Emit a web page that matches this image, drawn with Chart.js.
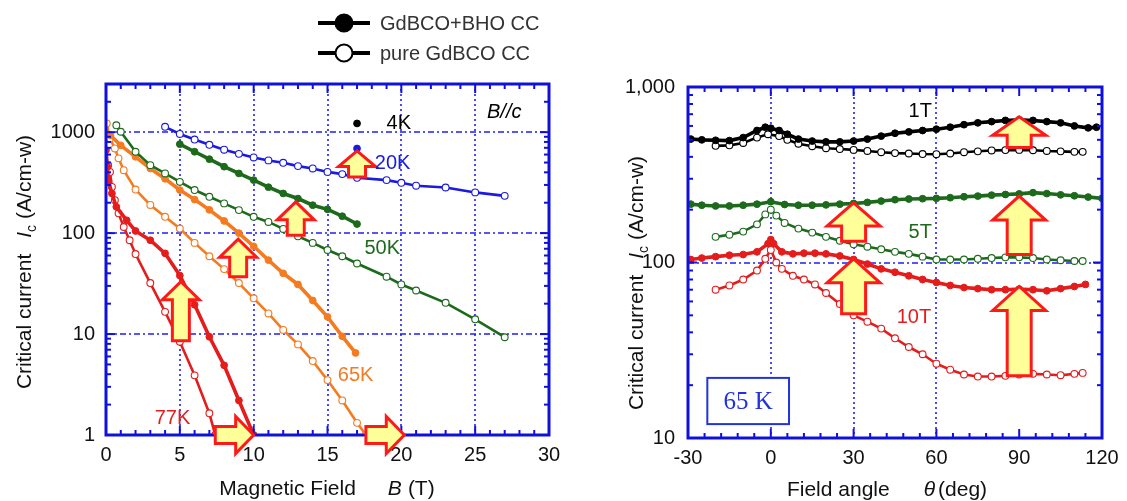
<!DOCTYPE html>
<html>
<head>
<meta charset="utf-8">
<title>Critical current vs field and angle</title>
<script src="https://cdn.jsdelivr.net/npm/chart.js@4.4.1/dist/chart.umd.min.js"></script>
<style>
  html, body { margin: 0; padding: 0; background: #fff; }
  .wrap { position: relative; width: 1127px; height: 501px; overflow: hidden; }
  #chartB { position: absolute; left: 0; top: 0; }
  #chartTheta { position: absolute; left: 600px; top: 0; }
</style>
</head>
<body>
<div class="wrap">
  <canvas id="chartB" width="600" height="501"></canvas>
  <canvas id="chartTheta" width="527" height="501"></canvas>
</div>
<script>
(function () {
    'use strict';

    // ── Data: Ic vs B, B//c (A = GdBCO+BHO, P = pure GdBCO) ──────
    const fieldTicks  = [0, 5, 10, 15, 20, 25, 30];
    const fieldLabels = ['0', '5', '10', '15', '20', '25', '30'];
    const icTicksB    = [1, 10, 100, 1000];
    const icLabelsB   = ['1', '10', '100', '1000'];

    const b4A   = [17];
    const ic4A  = [1220];
    const b20A  = [17];
    const ic20A = [689];
    const b20P  = [4, 5, 6, 7, 8, 9, 10, 11, 12, 13, 14, 15, 16, 17, 19, 20, 21, 23, 25, 27];
    const ic20P = [1130, 960, 845, 750, 670, 610, 562, 525, 497, 461, 437, 404, 384, 353, 335, 315, 295, 283, 253, 234];
    const b50A  = [5, 6, 7, 8, 9, 10, 11, 12, 13, 14, 15, 16, 17];
    const ic50A = [761, 640, 540, 455, 390, 335, 285, 247, 220, 189, 172, 147, 123];
    const b50P  = [0.7, 1, 2, 3, 4, 5, 6, 7, 8, 9, 10, 11, 12, 13, 14, 15, 16, 17, 19, 20, 21, 23, 25, 27];
    const ic50P = [1170, 1010, 640, 471, 390, 322, 267, 229, 197, 169, 145, 129, 110, 93, 80, 68, 59, 50, 37, 31, 27, 20.4, 14, 9.3];
    const b65A  = [0.3, 1, 2, 3, 4, 5, 6, 7, 8, 9, 10, 11, 12, 13, 14, 15, 16, 16.9];
    const ic65A = [930, 740, 570, 437, 345, 267, 215, 170, 132, 100, 74, 54, 40, 31, 21.5, 14.8, 9.5, 6.5];
    const b65P  = [0.05, 0.27, 0.6, 0.85, 1.2, 2, 3, 4, 5, 6, 7, 8, 9, 10, 11, 12, 13, 14, 15, 16, 17, 17.6];
    const ic65P = [1220, 865, 690, 550, 420, 270, 190, 145, 111, 80, 59, 44, 32, 22.6, 16, 11, 7.9, 5.4, 3.5, 2.2, 1.32, 1.0];
    const b77A  = [0, 0.1, 0.16, 0.4, 0.7, 1.4, 2, 3, 4, 5, 6, 7, 8, 9, 10];
    const ic77A = [664, 454, 335, 247, 182, 134, 105, 85, 63, 38, 19.5, 9.4, 4.9, 2.2, 1.0];
    const b77P  = [0.15, 0.27, 0.4, 0.6, 0.85, 1.2, 1.6, 2, 3, 4, 5, 6, 7, 7.4];
    const ic77P = [470, 404, 287, 212, 157, 115, 85, 62, 32, 16.6, 8.4, 3.9, 1.64, 1.0];

    // block arrows on the B plot (field, Ic from -> to)
    const upArrowB    = [17, 12.85, 8.95, 5.07];
    const upArrowLo   = [360, 95, 37, 8.6];
    const upArrowHi   = [653, 204, 87, 33];
    const sideArrowLo = [7.4, 17.6];
    const sideArrowHi = [10.0, 20.2];
    const sideArrowIc = [1, 1];

    const tempNames = ['4K', '20K', '50K', '65K', '77K'];
    const tempLabB  = [19.0, 18.2, 17.5, 15.7, 3.3];
    const tempLabIc = [1227, 493, 71, 3.93, 1.47];

    // ── Data: Ic vs field angle at 65 K ─────────────────────────
    const thetaTicks  = [-30, 0, 30, 60, 90, 120];
    const thetaLabels = ['-30', '0', '30', '60', '90', '120'];
    const icTicksT    = [10, 100, 1000];
    const icLabelsT   = ['10', '100', '1,000'];

    const thT1A  = [-29, -25, -20, -15, -10, -5, -2, 0, 3, 6, 10, 15, 20, 25, 30, 35, 40, 45, 50, 55, 60, 65, 70, 75, 80, 85, 90, 95, 100, 105, 110, 115, 118];
    const icT1A  = [505, 500, 497, 495, 515, 565, 590, 582, 565, 538, 505, 492, 487, 487, 492, 505, 525, 545, 555, 565, 575, 590, 610, 625, 635, 645, 650, 645, 635, 625, 600, 585, 590];
    const thT1P  = [-20, -15, -10, -5, -1, 3, 6, 10, 15, 20, 25, 30, 35, 40, 45, 50, 55, 60, 65, 70, 75, 80, 85, 90, 95, 100, 105, 110, 113];
    const icT1P  = [462, 465, 480, 515, 538, 525, 500, 475, 460, 448, 443, 438, 432, 425, 420, 418, 415, 414, 418, 425, 430, 435, 437, 438, 436, 432, 430, 427, 427];
    const thT5A  = [-29, -25, -20, -15, -10, -5, 0, 5, 10, 15, 20, 25, 30, 35, 40, 45, 50, 55, 60, 65, 70, 75, 80, 85, 90, 95, 100, 105, 110, 115, 120];
    const icT5A  = [215, 212, 210, 210, 212, 215, 222, 214, 212, 212, 213, 215, 217, 220, 224, 228, 230, 231, 232, 234, 237, 239, 242, 244, 246, 250, 247, 243, 240, 236, 232];
    const thT5P  = [-20, -15, -10, -5, -2, 0, 2, 5, 10, 15, 20, 25, 30, 35, 40, 45, 50, 55, 60, 65, 70, 75, 80, 85, 90, 95, 100, 105, 110, 113];
    const icT5P  = [140, 144, 150, 165, 188, 200, 185, 168, 156, 148, 140, 133, 127, 123, 119, 115, 112, 108, 104, 104, 104, 105, 106, 107, 107, 106, 104, 103, 102, 102];
    const thT10A = [-29, -25, -20, -15, -10, -5, -1, 0, 1, 4, 8, 12, 16, 20, 25, 30, 35, 40, 45, 50, 55, 60, 65, 70, 75, 80, 85, 90, 95, 100, 105, 110, 114];
    const icT10A = [104, 106, 108, 110, 111, 115, 128, 135, 128, 115, 112, 113, 113, 112, 109, 104, 98, 92, 88, 84, 80, 77, 74, 72, 71, 70, 70, 70.5, 70, 69, 71, 73, 75];
    const thT10P = [-20, -15, -10, -5, -2, 0, 2, 4, 8, 12, 16, 20, 25, 30, 35, 40, 45, 50, 55, 60, 65, 70, 75, 80, 85, 90, 95, 100, 105, 110, 113];
    const icT10P = [70, 74, 80, 90, 105, 118, 100, 92, 84, 80, 75, 67, 58, 50, 46, 42, 37, 33, 30, 26.5, 24.5, 23, 22.4, 22.4, 22.6, 23, 23.2, 23, 22.8, 23.2, 23.5];

    // block arrows on the angle plot (angle, Ic from -> to)
    const arrowTh   = [30, 30, 90, 90, 90];
    const arrowThLo = [132, 51, 452, 111, 22.6];
    const arrowThHi = [219, 105, 676, 239, 73];

    const fieldNames = ['1T', '5T', '10T'];
    const fieldLabTh = [49.9, 49.9, 45.6];
    const fieldLabIc = [730, 148, 48.5];

    const seriesNames = ['GdBCO+BHO CC', 'pure GdBCO CC'];

    // ── Styles ──────────────────────────────────────────────────
    const FONT   = '"Liberation Sans", Arial, Helvetica, sans-serif';
    const SERIF  = '"Liberation Serif", "Times New Roman", serif';
    const INK    = '#111111';
    const AXIS   = '#1010dc';
    const GRID   = '#1f1ff5';
    const BLACK  = '#000000';
    const BLUE   = '#1a1ae0';
    const GREEN  = '#1d6a1d';
    const ORANGE = '#f47b20';
    const RED    = '#e41c1c';
    const ARROW_FILL = '#ffff99';
    const ARROW_EDGE = '#ff1a1a';

    // ── Helpers ─────────────────────────────────────────────────

    const pts = (xs, ys) => xs.map((x, i) => ({ x, y: ys[i] }));

    function filled(xs, ys, color) {
        return {
            data: pts(xs, ys), borderColor: color, backgroundColor: color,
            borderWidth: 3.6, pointRadius: 3.4, pointBackgroundColor: color,
            pointBorderColor: color, pointBorderWidth: 1, tension: 0,
        };
    }

    function open(xs, ys, color) {
        return {
            data: pts(xs, ys), borderColor: color, backgroundColor: '#fff',
            borderWidth: 2.6, pointRadius: 3.4, pointBackgroundColor: '#fff',
            pointBorderColor: color, pointBorderWidth: 1.1, tension: 0,
        };
    }

    function line(ctx, x0, y0, x1, y1) {
        ctx.beginPath();
        ctx.moveTo(x0, y0);
        ctx.lineTo(x1, y1);
        ctx.stroke();
    }

    function blockArrow(ctx, x0, y0, x1, y1, s) {
        const L = Math.hypot(x1 - x0, y1 - y0);
        const hl = Math.min(s.head, L * 0.6);
        ctx.save();
        ctx.translate(x0, y0);
        ctx.rotate(Math.atan2(y1 - y0, x1 - x0));
        ctx.beginPath();
        ctx.moveTo(0, -s.shaft / 2);
        ctx.lineTo(L - hl, -s.shaft / 2);
        ctx.lineTo(L - hl, -s.width / 2);
        ctx.lineTo(L, 0);
        ctx.lineTo(L - hl, s.width / 2);
        ctx.lineTo(L - hl, s.shaft / 2);
        ctx.lineTo(0, s.shaft / 2);
        ctx.closePath();
        ctx.fillStyle = ARROW_FILL;
        ctx.fill();
        ctx.lineJoin = 'miter';
        ctx.strokeStyle = ARROW_EDGE;
        ctx.lineWidth = 3;
        ctx.stroke();
        ctx.restore();
    }

    // title made of plain / italic / subscript pieces
    function richText(ctx, parts, cx, cy, rotate) {
        const fontOf = p => (p.italic ? 'italic ' : '') + (p.sub ? 14 : 21) + 'px ' + FONT;
        ctx.save();
        ctx.translate(cx, cy);
        if (rotate) ctx.rotate(-Math.PI / 2);
        ctx.fillStyle = INK;
        ctx.textAlign = 'left';
        ctx.textBaseline = 'alphabetic';
        let total = 0;
        parts.forEach(p => {
            if (p.gap) { total += p.gap; return; }
            ctx.font = fontOf(p);
            p.w = ctx.measureText(p.t).width;
            total += p.w;
        });
        let x = -total / 2;
        parts.forEach(p => {
            if (p.gap) { x += p.gap; return; }
            ctx.font = fontOf(p);
            ctx.fillText(p.t, x, p.sub ? 13 : 7.5);
            x += p.w;
        });
        ctx.restore();
    }

    const icTitle = [
        { t: 'Critical current' }, { gap: 16 }, { t: 'I', italic: true },
        { t: 'c', sub: true }, { gap: 6 }, { t: '(A/cm-w)' },
    ];

    // ── Frame plugin: grid, inward ticks, box, arrows, labels ──

    function makeFrame(cfg) {
        return {
            id: 'frame',
            beforeDatasetsDraw(chart) {
                const { ctx, chartArea: a, scales: { x, y } } = chart;
                ctx.save();
                ctx.strokeStyle = GRID;
                ctx.lineWidth = 1.6;
                ctx.setLineDash([2, 3]);
                cfg.gridX.forEach(v => {
                    const px = Math.round(x.getPixelForValue(v));
                    line(ctx, px, a.top, px, a.bottom);
                });
                ctx.setLineDash([6, 3, 2, 3]);
                cfg.gridY.forEach(v => {
                    const py = Math.round(y.getPixelForValue(v));
                    line(ctx, a.left, py, a.right, py);
                });
                ctx.restore();
            },
            afterDatasetsDraw(chart) {
                const { ctx, chartArea: a, scales: { x, y } } = chart;
                ctx.save();
                ctx.strokeStyle = AXIS;
                ctx.lineWidth = 2;
                for (let v = x.min; v <= x.max + 1e-6; v += cfg.minorX) {
                    const px = x.getPixelForValue(v);
                    const len = cfg.majorX.includes(v) ? 9 : 5;
                    line(ctx, px, a.bottom, px, a.bottom - len);
                    line(ctx, px, a.top, px, a.top + len);
                }
                const d0 = Math.floor(Math.log10(y.min));
                const d1 = Math.ceil(Math.log10(y.max));
                for (let d = d0; d <= d1; d++) {
                    for (let m = 1; m <= 9; m++) {
                        const v = m * Math.pow(10, d);
                        if (v < y.min * 0.999 || v > y.max * 1.001) continue;
                        const py = y.getPixelForValue(v);
                        const len = m === 1 ? 9 : 5;
                        line(ctx, a.left, py, a.left + len, py);
                        line(ctx, a.right, py, a.right - len, py);
                    }
                }
                ctx.lineWidth = 3;
                ctx.strokeRect(a.left, a.top, a.right - a.left, a.bottom - a.top);

                if (cfg.box) {
                    const b = cfg.box;
                    const bx0 = x.getPixelForValue(b.x0), bx1 = x.getPixelForValue(b.x1);
                    const by0 = y.getPixelForValue(b.y1), by1 = y.getPixelForValue(b.y0);
                    ctx.fillStyle = '#fff';
                    ctx.fillRect(bx0, by0, bx1 - bx0, by1 - by0);
                    ctx.strokeStyle = '#2233dd';
                    ctx.lineWidth = 2;
                    ctx.strokeRect(bx0, by0, bx1 - bx0, by1 - by0);
                    ctx.fillStyle = '#2233dd';
                    ctx.font = '25px ' + SERIF;
                    ctx.textAlign = 'center';
                    ctx.textBaseline = 'middle';
                    ctx.fillText(b.text, (bx0 + bx1) / 2, (by0 + by1) / 2 + 1);
                }

                cfg.arrows.forEach(ar => blockArrow(ctx,
                    x.getPixelForValue(ar.x0), y.getPixelForValue(ar.y0),
                    x.getPixelForValue(ar.x1), y.getPixelForValue(ar.y1), cfg.arrowSize));

                ctx.textAlign = 'left';
                ctx.textBaseline = 'middle';
                cfg.labels.forEach(l => {
                    ctx.font = (l.italic ? 'italic ' : '') + '20px ' + FONT;
                    ctx.fillStyle = l.color;
                    ctx.fillText(l.text, x.getPixelForValue(l.x), y.getPixelForValue(l.y));
                });
                ctx.restore();
            },
            afterDraw(chart) {
                const ctx = chart.ctx;
                richText(ctx, icTitle, cfg.yTitle.x, cfg.yTitle.y, true);
                richText(ctx, cfg.xTitle.parts, cfg.xTitle.x, cfg.xTitle.y, false);
                if (!cfg.legend) return;
                const lg = cfg.legend;
                ctx.save();
                lg.rows.forEach((ry, i) => {
                    ctx.strokeStyle = BLACK;
                    ctx.lineWidth = 4;
                    line(ctx, lg.x0, ry, lg.x1, ry);
                    ctx.beginPath();
                    ctx.arc((lg.x0 + lg.x1) / 2, ry, 8.5, 0, Math.PI * 2);
                    ctx.fillStyle = i === 0 ? BLACK : '#fff';
                    ctx.fill();
                    ctx.lineWidth = 2;
                    ctx.stroke();
                    ctx.fillStyle = '#333';
                    ctx.font = '20px ' + FONT;
                    ctx.textAlign = 'left';
                    ctx.textBaseline = 'middle';
                    ctx.fillText(seriesNames[i], lg.textX, ry + 1);
                });
                ctx.restore();
            },
        };
    }

    function axes(xr, yr) {
        const tickFont = { family: FONT, size: 20 };
        return {
            x: {
                type: 'linear', min: xr.min, max: xr.max,
                grid: { display: false, drawTicks: false }, border: { display: false },
                ticks: {
                    font: tickFont, color: INK, padding: 8, autoSkip: false, maxRotation: 0,
                    callback: (v, i) => xr.labels[i],
                },
                afterBuildTicks: s => { s.ticks = xr.ticks.map(v => ({ value: v })); },
                afterFit: s => { s.height = xr.height; },
            },
            y: {
                type: 'logarithmic', min: yr.min, max: yr.max,
                grid: { display: false, drawTicks: false }, border: { display: false },
                ticks: {
                    font: tickFont, color: INK, padding: yr.pad, autoSkip: false,
                    callback: (v, i) => yr.labels[i],
                },
                afterBuildTicks: s => { s.ticks = yr.ticks.map(v => ({ value: v })); },
                afterFit: s => { s.width = yr.width; },
            },
        };
    }

    const baseOptions = {
        responsive: false,
        animation: false,
        events: [],
        plugins: { legend: { display: false }, tooltip: { enabled: false } },
    };

    // ── Chart: Ic vs B ──────────────────────────────────────────

    const arrowsB = upArrowB.map((b, i) => ({ x0: b, y0: upArrowLo[i], x1: b, y1: upArrowHi[i] }))
        .concat(sideArrowLo.map((b, i) => ({ x0: b, y0: sideArrowIc[i], x1: sideArrowHi[i], y1: sideArrowIc[i] })));
    const tempColors = [BLACK, BLUE, GREEN, ORANGE, RED];
    const labelsB = tempNames.map((t, i) => ({ text: t, x: tempLabB[i], y: tempLabIc[i], color: tempColors[i] }));
    labelsB.push({ text: 'B//c', x: 25.8, y: 1578, color: BLACK, italic: true });

    new Chart(document.getElementById('chartB'), {
        type: 'line',
        data: {
            datasets: [
                filled(b4A, ic4A, BLACK),
                filled(b20A, ic20A, BLUE),
                open(b20P, ic20P, BLUE),
                filled(b50A, ic50A, GREEN),
                open(b50P, ic50P, GREEN),
                filled(b65A, ic65A, ORANGE),
                open(b65P, ic65P, ORANGE),
                filled(b77A, ic77A, RED),
                open(b77P, ic77P, RED),
            ],
        },
        options: {
            ...baseOptions,
            layout: { padding: { left: 0, right: 51, top: 84, bottom: 0 } },
            scales: axes(
                { min: 0, max: 30, ticks: fieldTicks, labels: fieldLabels, height: 66 },
                { min: 1, max: 3000, ticks: icTicksB, labels: icLabelsB, width: 106, pad: 11 }
            ),
        },
        plugins: [makeFrame({
            gridX: [5, 10, 15, 20, 25], gridY: [10, 100, 1000],
            majorX: fieldTicks, minorX: 1,
            arrows: arrowsB, arrowSize: { shaft: 17, width: 37, head: 18 },
            labels: labelsB,
            yTitle: { x: 23, y: 262 },
            xTitle: { x: 327, y: 487, parts: [{ t: 'Magnetic Field' }, { gap: 32 }, { t: 'B', italic: true }, { gap: 6 }, { t: '(T)' }] },
            legend: { x0: 318, x1: 370, rows: [23, 53], textX: 380 },
        })],
    });

    // ── Chart: Ic vs field angle ────────────────────────────────

    const arrowsT = arrowTh.map((t, i) => ({ x0: t, y0: arrowThLo[i], x1: t, y1: arrowThHi[i] }));
    const fieldColors = [BLACK, GREEN, RED];
    const labelsT = fieldNames.map((t, i) => ({ text: t, x: fieldLabTh[i], y: fieldLabIc[i], color: fieldColors[i] }));

    new Chart(document.getElementById('chartTheta'), {
        type: 'line',
        data: {
            datasets: [
                filled(thT1A, icT1A, BLACK),
                open(thT1P, icT1P, BLACK),
                filled(thT5A, icT5A, GREEN),
                open(thT5P, icT5P, GREEN),
                filled(thT10A, icT10A, RED),
                open(thT10P, icT10P, RED),
            ],
        },
        options: {
            ...baseOptions,
            layout: { padding: { left: 0, right: 25, top: 87, bottom: 0 } },
            scales: axes(
                { min: -30, max: 120, ticks: thetaTicks, labels: thetaLabels, height: 63 },
                { min: 10, max: 1000, ticks: icTicksT, labels: icLabelsT, width: 88, pad: 13 }
            ),
        },
        plugins: [makeFrame({
            gridX: [0, 30, 60], gridY: [100],
            majorX: thetaTicks, minorX: 6,
            arrows: arrowsT, arrowSize: { shaft: 24, width: 53, head: 24 },
            labels: labelsT,
            box: { x0: -23, x1: 6.6, y0: 12, y1: 22, text: '65 K' },
            yTitle: { x: 35, y: 283 },
            xTitle: { x: 287, y: 488, parts: [{ t: 'Field angle' }, { gap: 34 }, { t: '\u03b8', italic: true }, { gap: 3 }, { t: '(deg)' }] },
        })],
    });
})();
</script>
</body>
</html>
